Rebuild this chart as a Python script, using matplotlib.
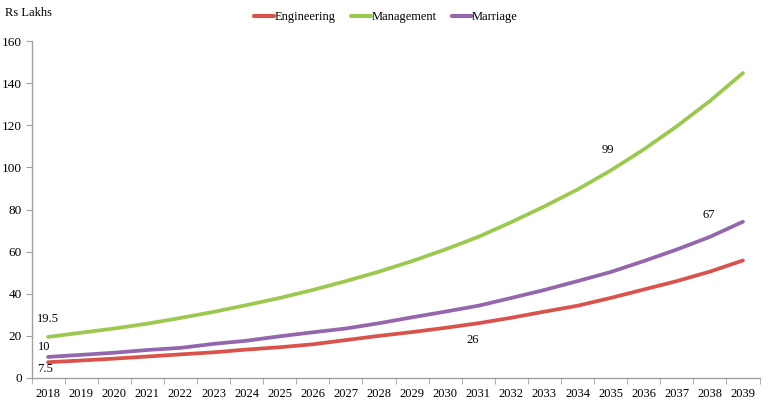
import matplotlib
matplotlib.use("Agg")
import matplotlib.pyplot as plt
from matplotlib.ticker import FixedLocator

years = [str(y) for y in range(2018, 2040)]
engineering = [7.5, 8.3, 9.2, 10.2, 11.2, 12.2, 13.5, 14.6, 16.0, 18.0, 20.0, 21.8,
               23.8, 26.0, 28.6, 31.5, 34.3, 38.0, 42.0, 46.0, 50.5, 55.8]
management = [19.5, 21.5, 23.5, 25.8, 28.5, 31.4, 34.6, 38.0, 41.8, 46.0, 50.5, 55.5,
              61.0, 67.0, 74.0, 81.5, 89.5, 98.5, 108.5, 119.5, 131.5, 144.8]
marriage = [10.0, 11.0, 12.0, 13.3, 14.3, 16.2, 17.7, 19.8, 21.7, 23.5, 26.0, 28.8,
            31.5, 34.3, 38.0, 41.8, 46.0, 50.3, 55.5, 61.0, 67.0, 74.2]
series_names = ["Engineering", "Management", "Marriage"]
colors = ["#D9534C", "#9BC94F", "#9366AE"]

plt.rcParams['font.family'] = ['Liberation Serif', 'DejaVu Serif']

fig = plt.figure(figsize=(7.72, 4.03), dpi=100)
ax = fig.add_axes([31.5/772, 25/403, (759.5-31.5)/772, (378-41)/403])

x = list(range(len(years)))
for name, vals, c in zip(series_names, [engineering, management, marriage], colors):
    ax.plot(x, vals, color=c, lw=2.7, label=name, solid_capstyle='round')

ax.set_xlim(-0.5, len(years) - 0.5)
ax.set_ylim(0, 160)
ax.set_yticks(range(0, 161, 20))
ax.set_xticks(x)
ax.set_xticklabels(years, fontsize=9)
ax.xaxis.set_minor_locator(FixedLocator([i - 0.5 for i in range(len(years) + 1)]))
ax.tick_params(axis='x', which='major', length=0, pad=7)
ax.tick_params(axis='x', which='minor', length=4, color='#A0A0A0', direction='out')
ax.tick_params(axis='y', length=4, color='#A0A0A0', labelsize=9.5, pad=3)
for s in ['top', 'right']:
    ax.spines[s].set_visible(False)
for s in ['left', 'bottom']:
    ax.spines[s].set_color('#A0A0A0')
    ax.spines[s].set_linewidth(1)

# data labels
def lab(i, vals, txt, dx, dy):
    ax.annotate(txt, (x[i], vals[i]), xytext=(dx, dy), textcoords='offset points',
                ha='center', va='center', fontsize=9)

lab(0, management, "19.5", 0, 13)
lab(0, marriage, "10", -3, 7)
lab(0, engineering, "7.5", -2, -5)
lab(17, management, "99", -2, 15)
lab(20, marriage, "67", -1, 16)
lab(13, engineering, "26", -4, -12)

fig.text(5/772, 1 - 13/403, "Rs Lakhs", fontsize=9, ha='left', va='center')
leg = fig.legend(loc='center', bbox_to_anchor=(0.5, 1 - 17/403), ncol=3, frameon=False,
                 fontsize=9, handlelength=1.6, handletextpad=0.05, columnspacing=1.2)
for h in leg.get_lines():
    h.set_linewidth(3)

fig.savefig("out.png", dpi=100)
